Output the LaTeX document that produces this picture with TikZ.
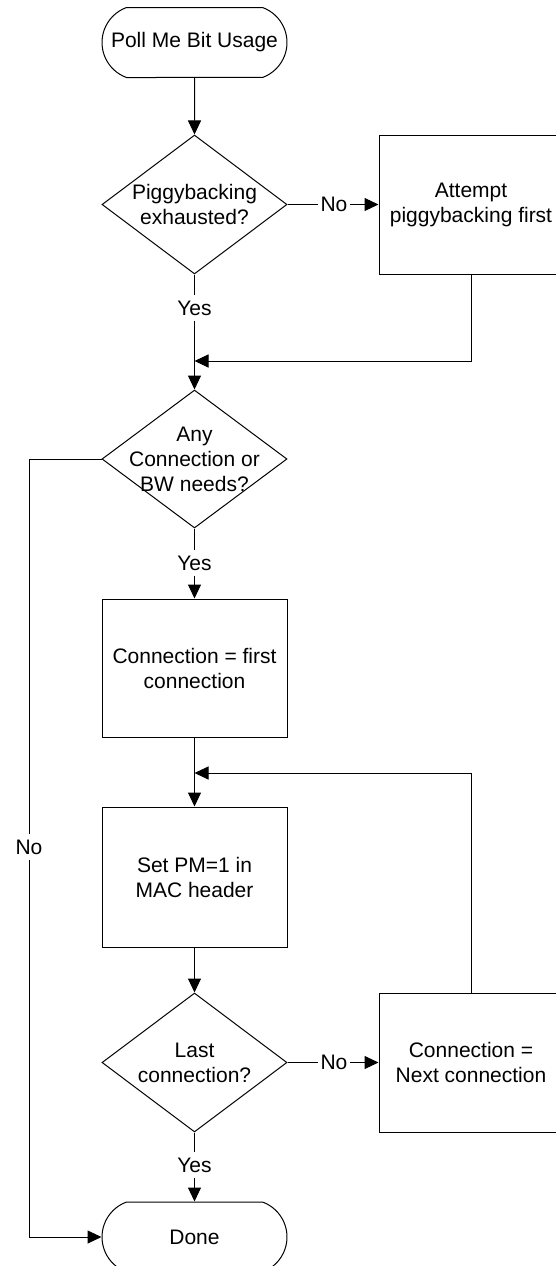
\documentclass[tikz,border=0pt]{standalone}
\usepackage{fontspec}
\setmainfont{Liberation Sans}
\usetikzlibrary{shapes.geometric,shapes.misc,arrows.meta}
\begin{document}
\begin{tikzpicture}[x=1pt,y=-1pt,
  every node/.style={font=\fontsize{21}{25}\selectfont, align=center},
  every label/.style={font=\fontsize{21}{25}\selectfont, align=center},
  term/.style={draw, line width=1pt, rounded rectangle, rounded rectangle arc length=140,
    minimum width=185pt, minimum height=70pt, inner sep=0pt},
  decision/.style={draw, line width=1pt, diamond, minimum width=185pt, minimum height=139pt, inner sep=0pt},
  procbox/.style={draw, line width=1pt, rectangle, minimum width=185pt, minimum height=139pt, inner sep=0pt},
  lbl/.style={inner xsep=2.5pt, inner ysep=5pt},
  conn/.style={draw, line width=1pt},
  arr/.style={conn, -{Triangle[length=14pt,width=13pt]}}
]
\useasboundingbox (0,0) rectangle (556,1266);
\clip (0,0) rectangle (556,1266);
\fill[white] (0,0) rectangle (556,1266);

\node[term] (start) at (194.5,42.5) {Poll Me Bit Usage};
\node[decision, label={center:Piggybacking\\exhausted?}] (d1) at (194.5,204.5) {};
\node[lbl] (no1) at (334,204.5) {No};
\node[procbox, minimum width=184pt] (attempt) at (471,204.5) {Attempt\\piggybacking first};
\node[lbl] (yes1) at (194.5,308) {Yes};
\coordinate (j1) at (194.5,361);
\node[decision, minimum height=138pt, label={center:Any\\Connection or\\BW needs?}] (d2) at (194.5,459) {};
\node[lbl] (yes2) at (194.5,563) {Yes};
\node[procbox, minimum height=138pt] (box1) at (194.5,668) {Connection = first\\connection};
\coordinate (j2) at (194.5,773);
\node[procbox, minimum height=140pt] (box2) at (194.5,877) {Set PM=1 in\\MAC header};
\node[decision, label={center:Last\\connection?}] (d3) at (194.5,1062.5) {};
\node[lbl] (no3) at (334,1062.5) {No};
\node[procbox, minimum width=184pt] (next) at (471,1062.5) {Connection =\\Next connection};
\node[lbl] (yes3) at (194.5,1165) {Yes};
\node[term] (done) at (194.5,1237) {Done};
\node[lbl] (noL) at (29,847) {No};

\draw[arr] (start) -- (d1);
\draw[conn] (d1.east) -- (no1);
\draw[arr] (no1) -- (attempt.west);
\draw[conn] (d1.south) -- (yes1);
\draw[arr] (yes1) -- (d2.north);
\draw[arr] (attempt.south) -- (attempt.south |- j1) -- (j1);
\draw[conn] (d2.south) -- (yes2);
\draw[arr] (yes2) -- (box1.north);
\draw[arr] (box1.south) -- (box2.north);
\draw[arr] (box2.south) -- (d3.north);
\draw[conn] (d3.east) -- (no3);
\draw[arr] (no3) -- (next.west);
\draw[arr] (next.north) -- (next.north |- j2) -- (j2);
\draw[conn] (d3.south) -- (yes3);
\draw[arr] (yes3) -- (done.north);
\draw[conn] (d2.west) -- (d2.west -| noL) -- (noL.north);
\draw[arr] (noL.south) -- (noL.south |- done.west) -- (done.west);
\end{tikzpicture}
\end{document}
